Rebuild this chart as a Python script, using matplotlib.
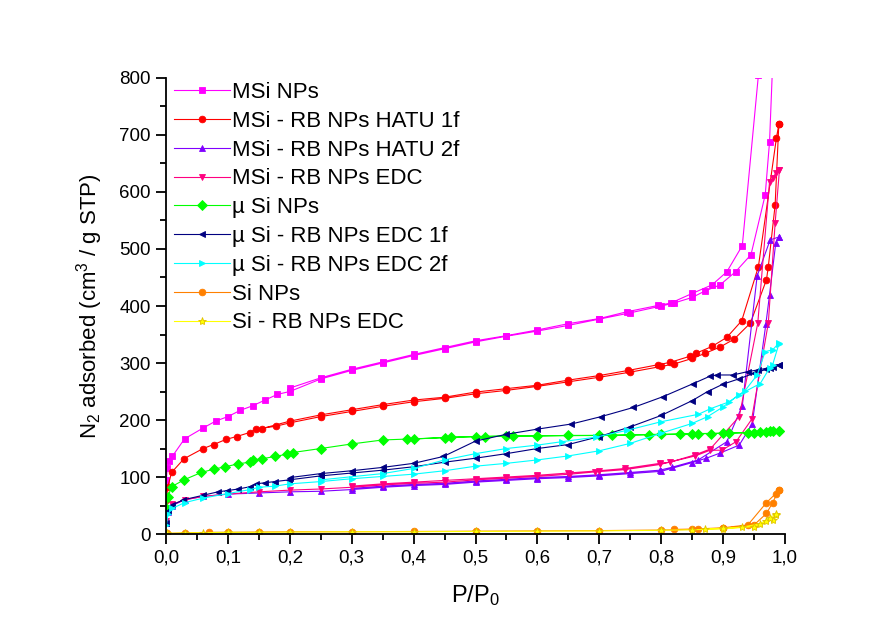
import matplotlib
matplotlib.use("Agg")
import matplotlib.pyplot as plt
from matplotlib.ticker import MultipleLocator, FuncFormatter

plt.rcParams['font.family'] = ['Liberation Sans', 'DejaVu Sans']
plt.rcParams['mathtext.default'] = 'regular'

# ---- data (adsorption branch, then desorption branch) ----
msi_ads_p = [0.0005, 0.002, 0.005, 0.01, 0.03, 0.06, 0.08, 0.1, 0.12, 0.14, 0.16, 0.18, 0.2, 0.25, 0.3, 0.35,
             0.4, 0.45, 0.5, 0.55, 0.6, 0.65, 0.7, 0.75, 0.8, 0.82, 0.85, 0.87, 0.895, 0.92, 0.945, 0.968, 0.975, 0.99]
msi_ads_v = [95, 115, 128, 136, 167, 186, 198, 206, 217, 225, 235, 245, 250, 272, 287, 300,
             313, 325, 337, 347, 356, 366, 377, 388, 400, 405, 415, 426, 437, 460, 490, 595, 688, 1100]
msi_des_p = [0.99, 0.957, 0.931, 0.906, 0.882, 0.85, 0.815, 0.795, 0.745, 0.7, 0.65, 0.6, 0.55, 0.5, 0.45,
             0.4, 0.35, 0.3, 0.25, 0.2]
msi_des_v = [1100, 805, 506, 460, 437, 422, 405, 401, 390, 378, 369, 358, 348, 339, 327,
             315, 302, 289, 274, 256]

hatu1_ads_p = [0.0005, 0.003, 0.009, 0.029, 0.06, 0.077, 0.097, 0.114, 0.135, 0.145, 0.177, 0.2, 0.25, 0.3, 0.35,
               0.4, 0.45, 0.5, 0.55, 0.6, 0.65, 0.7, 0.75, 0.8, 0.82, 0.85, 0.871, 0.895, 0.918, 0.944, 0.97,
               0.973, 0.984, 0.99]
hatu1_ads_v = [60, 83, 108, 132, 150, 157, 166, 171, 178, 184, 189, 195, 206, 215, 224,
               232, 238, 246, 252, 259, 267, 275, 284, 294, 298, 308, 317, 328, 342, 370, 446,
               469, 577, 719]
hatu1_des_p = [0.99, 0.986, 0.957, 0.93, 0.906, 0.882, 0.856, 0.847, 0.814, 0.795, 0.747, 0.7, 0.65, 0.6,
               0.55, 0.5, 0.45, 0.4, 0.35, 0.3, 0.25, 0.2, 0.155]
hatu1_des_v = [719, 694, 469, 374, 345, 329, 317, 312, 301, 297, 287, 278, 270, 261,
               255, 249, 240, 235, 227, 218, 209, 198, 185]

hatu2_ads_p = [0.0005, 0.003, 0.01, 0.03, 0.06, 0.1, 0.15, 0.2, 0.25, 0.3, 0.35, 0.4, 0.45, 0.5, 0.55, 0.6,
               0.65, 0.7, 0.75, 0.8, 0.849, 0.873, 0.895, 0.926, 0.947, 0.969, 0.975, 0.985, 0.99]
hatu2_ads_v = [20, 38, 50, 60, 66, 70, 72, 74, 75, 78, 82, 85, 87, 91, 94, 97,
               99, 102, 106, 110, 125, 133, 142, 156, 193, 368, 420, 510, 521]
hatu2_des_p = [0.99, 0.976, 0.955, 0.931, 0.906, 0.86, 0.817, 0.798, 0.75, 0.7, 0.65, 0.6, 0.55, 0.5, 0.45,
               0.4, 0.35, 0.3]
hatu2_des_v = [521, 516, 453, 225, 162, 130, 117, 112, 108, 104, 101, 99, 96, 93, 89,
               87, 84, 80]

edc_ads_p = [0.0005, 0.003, 0.01, 0.03, 0.06, 0.1, 0.15, 0.2, 0.25, 0.3, 0.35, 0.4, 0.45, 0.5, 0.55, 0.6,
             0.653, 0.693, 0.742, 0.798, 0.855, 0.879, 0.898, 0.921, 0.946, 0.973, 0.984, 0.991]
edc_ads_v = [22, 40, 52, 60, 66, 70, 74, 77, 79, 82, 86, 89, 91, 95, 98, 101,
             105, 109, 113, 122, 137, 147, 147, 162, 201, 370, 545, 639]
edc_des_p = [0.991, 0.985, 0.98, 0.975, 0.956, 0.926, 0.879, 0.855, 0.814, 0.798, 0.742, 0.7, 0.65, 0.6,
             0.55, 0.5, 0.45, 0.4, 0.35, 0.3]
edc_des_v = [639, 633, 624, 618, 370, 206, 149, 139, 126, 124, 115, 111, 107, 103,
             100, 97, 94, 91, 88, 84]

musi_ads_p = [0.0005, 0.003, 0.009, 0.029, 0.057, 0.078, 0.096, 0.116, 0.135, 0.141, 0.155, 0.176, 0.195, 0.205,
              0.25, 0.3, 0.35, 0.4, 0.45, 0.5, 0.55, 0.6, 0.65, 0.7, 0.75, 0.8, 0.85, 0.9, 0.95, 0.97, 0.98, 0.99]
musi_ads_v = [45, 65, 83, 95, 108, 114, 118, 123, 126, 130, 132, 136, 140, 143,
              150, 158, 165, 167, 169, 171, 172, 172, 173, 173, 174, 175, 176, 177, 178, 179, 180, 181]
musi_des_p = [0.99, 0.975, 0.96, 0.94, 0.91, 0.88, 0.86, 0.83, 0.78, 0.72, 0.56, 0.515, 0.46, 0.39]
musi_des_v = [181, 180, 179, 178, 177, 176, 176, 175, 174, 173, 172, 171, 170, 166]

edc1_ads_p = [0.0005, 0.003, 0.01, 0.028, 0.06, 0.084, 0.098, 0.117, 0.136, 0.146, 0.16, 0.176, 0.199, 0.25,
              0.3, 0.35, 0.4, 0.45, 0.5, 0.55, 0.6, 0.65, 0.7, 0.75, 0.8, 0.85, 0.875, 0.9, 0.925, 0.95, 0.97,
              0.98, 0.99]
edc1_ads_v = [20, 40, 51, 60, 68, 74, 76, 79, 83, 88, 90, 92, 95, 102,
              107, 112, 118, 126, 133, 141, 150, 157, 171, 188, 208, 234, 250, 263, 272, 282, 289,
              293, 297]
edc1_des_p = [0.99, 0.976, 0.957, 0.94, 0.916, 0.89, 0.879, 0.852, 0.803, 0.755, 0.703, 0.655, 0.6, 0.55,
              0.5, 0.448, 0.4, 0.351, 0.3, 0.25, 0.2]
edc1_des_v = [297, 292, 288, 285, 279, 279, 277, 264, 241, 222, 206, 193, 184, 175,
              163, 136, 124, 117, 111, 106, 99]

edc2_ads_p = [0.0005, 0.003, 0.01, 0.03, 0.06, 0.1, 0.136, 0.15, 0.176, 0.2, 0.25, 0.3, 0.35, 0.4, 0.45,
              0.5, 0.55, 0.6, 0.65, 0.7, 0.75, 0.8, 0.85, 0.875, 0.9, 0.925, 0.96, 0.975, 0.98, 0.99]
edc2_ads_v = [15, 35, 45, 55, 63, 71, 78, 82, 84, 88, 92, 97, 101, 105, 111,
              119, 124, 130, 137, 146, 159, 177, 194, 206, 223, 244, 264, 291, 297, 333]
edc2_des_p = [0.99, 0.98, 0.968, 0.955, 0.935, 0.91, 0.88, 0.86, 0.8, 0.745, 0.695, 0.64, 0.6, 0.55,
              0.5, 0.45, 0.4, 0.35, 0.25]
edc2_des_v = [335, 323, 320, 279, 251, 232, 220, 210, 197, 182, 170, 162, 156, 150,
              141, 130, 115, 106, 95]

si_ads_p = [0.001, 0.03, 0.07, 0.1, 0.15, 0.2, 0.3, 0.4, 0.5, 0.6, 0.7, 0.8, 0.85, 0.9, 0.95, 0.97, 0.98, 0.99]
si_ads_v = [1, 2, 3, 3, 3.5, 4, 4, 4.5, 5, 5.5, 6, 7, 8, 10, 16, 36, 55, 77]
si_des_p = [0.99, 0.985, 0.97, 0.94, 0.9, 0.86, 0.82]
si_des_v = [77, 71, 55, 16, 11, 9, 8]

sirb_ads_p = [0.001, 0.03, 0.06, 0.1, 0.15, 0.2, 0.3, 0.4, 0.5, 0.6, 0.7, 0.8, 0.85, 0.9, 0.95, 0.97,
              0.98, 0.985]
sirb_ads_v = [1, 2, 2.5, 3, 3, 3.5, 4, 4, 4.5, 5, 5.5, 6.5, 7.5, 9, 13, 22, 25, 33]
sirb_des_p = [0.985, 0.975, 0.96, 0.93, 0.9, 0.87]
sirb_des_v = [35, 28, 18, 12, 10, 9]

labels = ["MSi NPs", "MSi - RB NPs HATU 1f", "MSi - RB NPs HATU 2f", "MSi - RB NPs EDC",
          "\u00b5 Si NPs", "\u00b5 Si - RB NPs EDC 1f", "\u00b5 Si - RB NPs EDC 2f",
          "Si NPs", "Si - RB NPs EDC"]
colors = ['#FF00FF', '#FF0000', '#8000FF', '#FF0080', '#00FF00', '#000080', '#00FFFF', '#FF8000', '#FFFF00']
markers = ['s', 'o', '^', 'v', 'D', '<', '>', 'o', '*']

series = [
    (msi_ads_p + msi_des_p, msi_ads_v + msi_des_v),
    (hatu1_ads_p + hatu1_des_p, hatu1_ads_v + hatu1_des_v),
    (hatu2_ads_p + hatu2_des_p, hatu2_ads_v + hatu2_des_v),
    (edc_ads_p + edc_des_p, edc_ads_v + edc_des_v),
    (musi_ads_p + musi_des_p, musi_ads_v + musi_des_v),
    (edc1_ads_p + edc1_des_p, edc1_ads_v + edc1_des_v),
    (edc2_ads_p + edc2_des_p, edc2_ads_v + edc2_des_v),
    (si_ads_p + si_des_p, si_ads_v + si_des_v),
    (sirb_ads_p + sirb_des_p, sirb_ads_v + sirb_des_v),
]

fig = plt.figure(figsize=(8.94, 6.34), dpi=100)
ax = fig.add_axes([0.1857, 0.1577, 0.6924, 0.7193])

for (p, v), lab, c, m in zip(series, labels, colors, markers):
    ms = 6 if m == '*' else 4.8
    mec = '#E0C000' if c == '#FFFF00' else c
    ax.plot(p, v, color=c, marker=m, markersize=ms, markerfacecolor=c, markeredgecolor=mec,
            markeredgewidth=0.6, linewidth=0.8, label=lab)

ax.set_xlim(0, 1.0)
ax.set_ylim(0, 800)
ax.spines['top'].set_visible(False)
ax.spines['right'].set_visible(False)
ax.spines['left'].set_linewidth(1.3)
ax.spines['bottom'].set_linewidth(1.3)

ax.xaxis.set_major_locator(MultipleLocator(0.1))
ax.xaxis.set_minor_locator(MultipleLocator(0.05))
ax.yaxis.set_major_locator(MultipleLocator(100))
ax.yaxis.set_minor_locator(MultipleLocator(50))
ax.xaxis.set_major_formatter(FuncFormatter(lambda x, pos: f"{x:.1f}".replace('.', ',')))
ax.tick_params(which='major', direction='out', length=7, width=1.3, labelsize=13.5, pad=4)
ax.tick_params(which='minor', direction='out', length=4, width=1.3)

ax.set_xlabel("P/P$_0$", fontsize=17, labelpad=12)
ax.set_ylabel("N$_2$ adsorbed (cm$^3$ / g STP)", fontsize=16, labelpad=10)

ax.legend(loc='upper left', bbox_to_anchor=(-0.012, 1.025), frameon=False, fontsize=16,
          handlelength=2.5, handletextpad=0.1, labelspacing=0.35, borderaxespad=0.3)

fig.savefig("out.png", dpi=100)
